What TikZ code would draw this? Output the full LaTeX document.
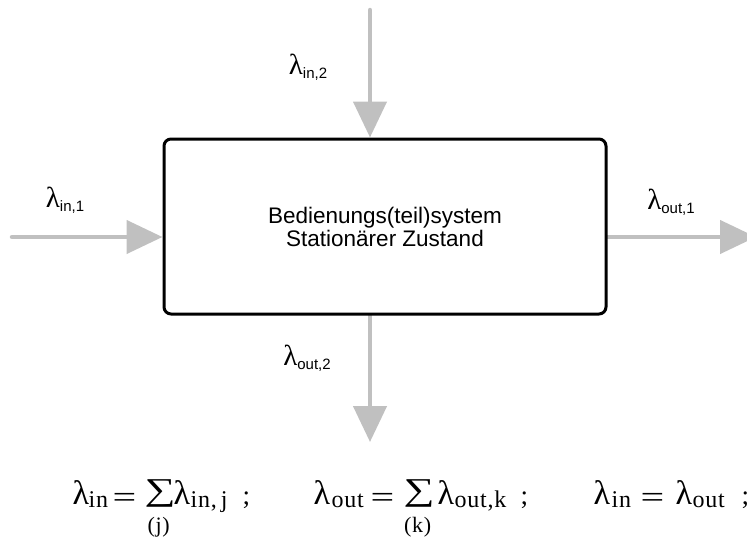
\documentclass[tikz,border=0pt]{standalone}
\usepackage{fontspec}
\setmainfont{Liberation Serif}
\newfontfamily\arial{Liberation Sans}
\newfontfamily\subfont[LetterSpace=3]{Liberation Serif}
\usetikzlibrary{arrows.meta,backgrounds}
\definecolor{flowgray}{RGB}{192,192,192}
% lambda with a sans-serif index, as used for the flow labels
\newcommand{\lamsub}[1]{{\fontsize{29}{29}\selectfont λ}%
  \raisebox{-4pt}{\arial\fontsize{15}{15}\selectfont #1}}
% pieces of the balance equations
\newcommand{\at}[2]{\rlap{\hspace*{#1}#2}}
\newcommand{\lam}{{\fontsize{34}{34}\selectfont λ}}
\newcommand{\idx}[1]{\raisebox{-3pt}{\subfont\fontsize{24}{24}\selectfont #1}}
\newcommand{\eqs}{\raisebox{-3pt}{\fontsize{28}{28}\selectfont\scalebox{1.5}[1.1]{=}}}
\newcommand{\semi}{{\fontsize{27}{27}\selectfont ;}}
\newcommand{\bigsum}[1]{\rlap{\raisebox{3.4pt}{\scalebox{1.45}[1.06]{\fontsize{30}{30}\selectfont ∑}}}%
  \rlap{\hspace*{14pt}\makebox[0pt]{\raisebox{-28pt}{\subfont\fontsize{22}{22}\selectfont #1}}}}
\begin{document}
\begin{tikzpicture}[x=1pt,y=-1pt,
  flow/.style={draw=flowgray, line width=4.5pt, line cap=round,
    -{Triangle[length=36pt,width=33pt]}},
  sysbox/.style={draw=black, line width=3pt, rounded corners=7pt,
    minimum width=442pt, minimum height=175pt, inner sep=0pt, align=center,
    font=\arial\fontsize{22.5}{23}\selectfont},
  lab/.style={inner sep=0pt},
  formula/.style={anchor=base west, inner sep=0pt}]
\useasboundingbox (0,0) rectangle (747,538);

% the system
\node[sysbox] (sys) at (385,226.5) {Bedienungs(teil)system\\Stationärer Zustand};

% free ends of the flows
\coordinate (inA) at (12,237);
\coordinate (inB) at (370,10);
\coordinate (outA) at (756,237);
\coordinate (outB) at (370,442);

% flows into and out of the system
\begin{scope}[on background layer]
  \draw[flow] (inA) -- (inA -| sys.west);
  \draw[flow] (inB) -- (inB |- sys.north);
  \draw[flow] (outA -| sys.east) -- (outA);
  \draw[flow] (outB |- sys.south) -- (outB);
\end{scope}

% flow labels
\node[lab] (lin1) at (65,200) {\lamsub{in,1}};
\node[lab] (lin2) at (308,67) {\lamsub{in,2}};
\node[lab] (lout1) at (671,202) {\lamsub{out,1}};
\node[lab] (lout2) at (307,358) {\lamsub{out,2}};

% balance equations
\node[formula] (fin) at (72,504)
  {\at{0pt}{\lam}\at{16pt}{\idx{in}}\at{40pt}{\eqs}\at{72pt}{\bigsum{(j)}}%
   \at{101pt}{\lam}\at{118pt}{\idx{in,\,j}}\at{170pt}{\semi}};
\node[formula] (fout) at (313,504)
  {\at{0pt}{\lam}\at{18pt}{\idx{out}}\at{57pt}{\eqs}\at{90pt}{\bigsum{(k)}}%
   \at{124pt}{\lam}\at{141pt}{\idx{out,k}}\at{207pt}{\semi}};
\node[formula] (fbal) at (593,504)
  {\at{0pt}{\lam}\at{18pt}{\idx{in}}\at{47pt}{\eqs}%
   \at{82pt}{\lam}\at{99pt}{\idx{out}}\at{148pt}{\semi}};
\end{tikzpicture}
\end{document}
